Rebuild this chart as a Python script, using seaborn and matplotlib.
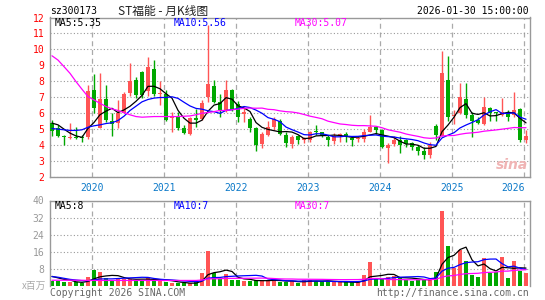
import numpy as np
import pandas as pd
import matplotlib
matplotlib.use("Agg")
import matplotlib.pyplot as plt
import seaborn as sns

# monthly K-line, Jun 2019 .. Jan 2026 (prices in yuan, volume in millions)
months = pd.period_range("2019-06", "2026-01", freq="M").astype(str)
opens = [5.39, 5.05, 4.60, 4.42, 4.50, 4.45, 4.48, 7.46, 5.10, 6.88,
         5.52, 5.38, 6.04, 7.29, 8.08, 8.60, 7.40, 8.78, 7.20, 7.22,
         5.67, 5.75, 5.06, 4.71, 5.65, 5.63, 7.00, 7.72, 6.70, 6.16,
         7.46, 6.60, 5.98, 5.62, 5.06, 4.08, 4.65, 5.16, 5.54, 4.64,
         4.07, 4.57, 4.35, 4.33, 4.84, 4.79, 4.53, 4.28, 4.54, 4.71,
         4.43, 4.36, 4.39, 4.81, 5.12, 4.96, 3.84, 4.08, 4.33, 4.33,
         4.12, 3.87, 3.66, 3.40, 5.21, 4.58, 8.08, 5.80, 6.04, 6.88,
         5.90, 5.58, 5.33, 6.31, 6.05, 5.90, 6.04, 5.90, 6.25, 4.29]
closes = [4.86, 4.60, 4.50, 4.47, 4.45, 4.42, 7.40, 6.35, 6.90, 5.58,
          5.31, 6.04, 7.20, 8.04, 7.15, 7.15, 8.88, 7.22, 7.26, 5.60,
          5.75, 5.06, 4.75, 5.73, 5.60, 6.67, 7.86, 6.68, 6.20, 7.46,
          6.20, 5.77, 6.02, 5.08, 4.00, 4.70, 5.12, 5.62, 4.70, 4.11,
          4.53, 4.32, 4.38, 4.85, 4.80, 4.64, 4.32, 4.54, 4.71, 4.54,
          4.32, 4.39, 4.81, 5.12, 4.96, 3.91, 4.01, 4.33, 4.01, 4.08,
          3.87, 3.66, 3.38, 4.02, 4.65, 8.50, 5.75, 5.85, 7.00, 5.90,
          5.48, 5.38, 6.38, 6.00, 6.00, 6.10, 5.79, 6.21, 4.29, 4.58]
highs = [5.55, 5.27, 4.65, 5.38, 5.12, 4.65, 7.77, 8.46, 8.50, 7.77,
         6.00, 6.83, 7.35, 9.13, 8.29, 8.64, 9.55, 9.33, 8.04, 7.46,
         6.10, 6.10, 5.27, 5.75, 6.25, 6.83, 11.50, 8.08, 7.20, 8.08,
         7.50, 6.75, 6.30, 5.75, 5.15, 4.85, 5.48, 5.75, 5.62, 4.80,
         4.64, 4.64, 4.53, 4.87, 5.27, 4.85, 4.64, 4.75, 4.75, 4.80,
         4.45, 4.55, 5.00, 5.90, 5.18, 5.00, 4.15, 4.55, 4.55, 4.38,
         4.22, 4.01, 3.87, 4.20, 5.30, 9.92, 9.58, 6.20, 7.88, 7.92,
         6.10, 5.75, 7.04, 6.42, 6.10, 6.94, 6.21, 7.35, 6.31, 4.96]
lows = [4.55, 4.50, 4.00, 4.40, 4.40, 4.17, 4.37, 6.00, 5.05, 5.42,
        4.54, 5.06, 6.00, 7.10, 6.94, 6.95, 7.10, 7.10, 6.52, 5.50,
        4.80, 4.92, 4.70, 4.65, 5.12, 5.60, 6.70, 6.62, 5.75, 6.10,
        6.15, 5.42, 5.42, 4.79, 3.65, 3.80, 4.55, 4.95, 4.63, 3.90,
        3.80, 4.05, 4.12, 4.22, 4.62, 4.50, 3.95, 4.10, 4.18, 4.20,
        3.95, 4.18, 4.22, 4.80, 4.70, 3.80, 2.86, 3.92, 3.49, 3.85,
        3.70, 3.40, 3.10, 3.20, 4.35, 4.55, 5.48, 5.35, 5.96, 5.69,
        4.50, 5.30, 5.27, 5.48, 5.48, 5.85, 5.48, 5.75, 4.17, 4.13]
volumes = [2.5, 2.2, 1.7, 1.7, 1.7, 1.25, 4.4, 7.7, 6.4, 3.8,
           2.5, 3.8, 3.3, 3.3, 2.8, 2.8, 3.8, 2.8, 2.8, 1.7,
           1.25, 1.25, 1.25, 1.25, 1.7, 6.0, 16.3, 6.0, 3.3, 5.6,
           2.8, 2.8, 2.2, 2.2, 2.8, 2.5, 2.8, 3.0, 1.7, 1.7,
           2.5, 1.25, 2.8, 2.8, 2.2, 2.2, 2.2, 1.7, 1.7, 1.7,
           1.7, 1.7, 5.3, 11.1, 3.3, 3.3, 4.4, 4.9, 3.8, 2.8,
           2.5, 2.8, 3.3, 3.3, 6.4, 35.1, 18.5, 8.5, 16.9, 11.9,
           5.3, 4.4, 12.9, 6.0, 6.7, 13.5, 3.6, 11.6, 7.2, 6.0]

# MA values at the left edge (earlier months are off the chart)
ma5_head = [5.38, 5.27, 5.00, 4.75]
ma10_head = [5.04, 5.00, 4.96, 4.92, 4.92, 4.96, 5.12, 5.21, 5.27]
ma30_head = [9.60, 9.33, 8.92, 8.50, 7.98, 7.50, 7.04, 6.83, 6.62, 6.42,
             6.27, 6.17, 6.04, 5.90, 5.79, 5.75, 5.77, 5.79, 5.79, 5.79,
             5.79, 5.79, 5.81, 5.83, 5.90, 6.00, 6.04, 6.10, 6.17]
vma5_head = [4.5, 3.8, 3.1, 2.8]
vma10_head = [4.4, 4.1, 3.6, 3.1, 2.8, 2.5, 2.5, 2.8, 3.3]
vma30_head = [2.7, 2.7, 2.7, 2.7, 2.7, 2.7, 2.6, 2.6, 2.6, 2.6,
              2.6, 2.6, 2.6, 2.6, 2.6, 2.6, 2.6, 2.6, 2.6, 2.6,
              2.6, 2.6, 2.6, 2.6, 2.6, 2.8, 3.3, 3.4, 3.4]

years = ["2020", "2021", "2022", "2023", "2024", "2025", "2026"]
price_legend = ["MA5:5.35", "MA10:5.56", "MA30:5.07"]
vol_legend = ["MA5:8", "MA10:7", "MA30:7"]

RED, GREEN = "#ff5555", "#00a800"
MA_COLORS = ["black", "#0000ff", "#ff00ff"]


def moving(vals, n, head):
    s = pd.Series(vals, dtype=float).rolling(n).mean()
    s.iloc[:len(head)] = head
    return s.values


df = pd.DataFrame({"month": months, "open": opens, "high": highs, "low": lows,
                   "close": closes, "vol": volumes})
df["k"] = np.arange(len(df))
df["MA5"] = moving(closes, 5, ma5_head)
df["MA10"] = moving(closes, 10, ma10_head)
df["MA30"] = moving(closes, 30, ma30_head)
df["VMA5"] = moving(volumes, 5, vma5_head)
df["VMA10"] = moving(volumes, 10, vma10_head)
df["VMA30"] = moving(volumes, 30, vma30_head)
up = df["close"] >= df["open"]
colors = np.where(up, RED, GREEN)

sns.set_theme(style="white")
plt.rcParams["font.family"] = ["DejaVu Sans Mono", "Noto Sans CJK SC"]
cjk = ["Noto Sans CJK SC", "DejaVu Sans"]

W, H = 545, 300
fig = plt.figure(figsize=(W / 100, H / 100), dpi=100)
fig.patch.set_facecolor("white")


def fx(x):
    return x / W


def fy(y):
    return 1 - y / H


ax = fig.add_axes([fx(50), fy(177), (529.5 - 50) / W, (177 - 17.5) / H])
axv = fig.add_axes([fx(50), fy(286), (529.5 - 50) / W, (286 - 200.5) / H])

# year boundaries sit just left of each January bar
jan = df.index[df["month"].str.endswith("-01")].values - 0.28

for a in (ax, axv):
    a.set_xlim(-1 / 3, 79.58)
    a.set_xticks(jan)
    a.grid(True, axis="y", ls=(0, (1, 2)), color="#999999", lw=0.8)
    a.grid(True, axis="x", ls=(0, (4, 3)), color="#aaaaaa", lw=0.9)
    a.set_axisbelow(True)
    for sp in a.spines.values():
        sp.set_color("#999999")
        sp.set_linewidth(1.0)
    a.tick_params(length=0, labelsize=7)
axv.spines["bottom"].set_visible(False)

# candles
body_lo = np.minimum(df["open"], df["close"])
body_h = np.maximum((df["close"] - df["open"]).abs(), 0.07)
ax.vlines(df["k"], df["low"], df["high"], colors=colors, lw=1.0, zorder=2)
ax.bar(df["k"], body_h, bottom=body_lo, width=0.8, color=colors, lw=0, zorder=3)
for col, c in zip(["MA5", "MA10", "MA30"], MA_COLORS):
    sns.lineplot(data=df, x="k", y=col, color=c, lw=0.9, ax=ax, zorder=4)
ax.set_ylim(2, 12)
ax.set_yticks(range(2, 13))
ax.set_yticklabels([str(v) for v in range(2, 13)])
ax.tick_params(axis="y", labelcolor="red", pad=4)
ax.set_xticklabels(years)
ax.tick_params(axis="x", labelcolor="#0a78c8", pad=4)
ax.get_xticklabels()[-1].set_horizontalalignment("right")
ax.set_xlabel("")
ax.set_ylabel("")

# volume
axv.bar(df["k"], df["vol"], width=0.8, color=colors, lw=0, zorder=2)
for col, c in zip(["VMA5", "VMA10", "VMA30"], MA_COLORS):
    sns.lineplot(data=df, x="k", y=col, color=c, lw=0.9, ax=axv, zorder=4)
axv.set_ylim(0, 40)
axv.set_yticks([8, 16, 24, 32, 40])
axv.set_yticklabels(["8", "16", "24", "32", "40"])
axv.tick_params(axis="y", labelcolor="#999999", pad=4)
axv.set_xticklabels([])
axv.set_xlabel("")
axv.set_ylabel("")
fig.text(fx(46), fy(286), "x百万", ha="right", va="center", fontsize=7,
         color="#aaaaaa", family=cjk)

# header texts
fig.text(fx(50), fy(11), "sz300173", fontsize=7, va="center", color="black")
fig.text(fx(118), fy(11), "ST福能 - 月K线图", fontsize=8.5, va="center",
         family=cjk, color="#222222")
fig.text(fx(529), fy(11.5), "2026-01-30 15:00:00", fontsize=7, va="center",
         ha="right", color="black")

for txt, x, c in zip(price_legend, [55, 174, 295], MA_COLORS):
    fig.text(fx(x), fy(23.5), txt, fontsize=7, va="center", color=c)
for txt, x, c in zip(vol_legend, [55, 174, 295], MA_COLORS):
    fig.text(fx(x), fy(206), txt, fontsize=7, va="center", color=c)

fig.text(fx(50), fy(293.5), "Copyright 2026 SINA.COM", fontsize=7,
         va="center", color="#666666")
fig.text(fx(529), fy(293.5), "http://finance.sina.com.cn", fontsize=7,
         va="center", ha="right", color="#666666")
fig.text(fx(512), fy(165), "sina", fontsize=10, fontweight="bold",
         style="italic", ha="center", va="center", color="#f0b4b4",
         family="DejaVu Sans")

fig.savefig("out.png", dpi=100, facecolor="white")
